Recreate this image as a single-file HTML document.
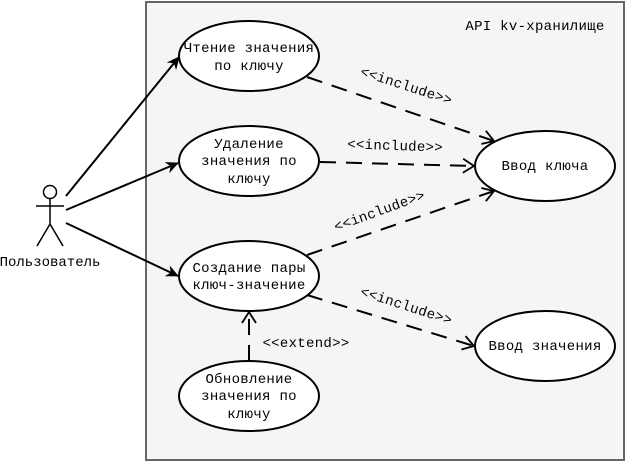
<!DOCTYPE html>
<html><head><meta charset="utf-8"><style>
html,body{margin:0;padding:0;background:#fff;}
svg{display:block;}
text{font-family:"Liberation Mono","DejaVu Sans Mono",monospace;font-size:14px;letter-spacing:0.3px;fill:#000;}
</style></head><body>
<svg width="627" height="463" viewBox="0 0 627 463" xmlns="http://www.w3.org/2000/svg">
<defs>
<marker id="fill" markerWidth="14" markerHeight="14" refX="12" refY="7" orient="auto" markerUnits="userSpaceOnUse">
<path d="M0,1 L13,7 L0,13 L4,7 Z" fill="#000"/>
</marker>
<marker id="open" markerWidth="16" markerHeight="16" refX="14" refY="8" orient="auto" markerUnits="userSpaceOnUse">
<path d="M3,1 L14,8 L3,15" fill="none" stroke="#000" stroke-width="1.8"/>
</marker>
</defs>
<rect x="146" y="2" width="478" height="458" fill="#f5f5f5" stroke="#666" stroke-width="2"/>
<text x="535" y="30" text-anchor="middle">API kv-хранилище</text>

<g stroke="#000" stroke-width="1.5" fill="none">
<circle cx="50" cy="192" r="6.5" fill="#fff"/>
<line x1="50" y1="198.5" x2="50" y2="224"/>
<line x1="36" y1="206" x2="64" y2="206"/>
<line x1="50" y1="224" x2="37" y2="246"/>
<line x1="50" y1="224" x2="63" y2="246"/>
</g>
<text x="50" y="266" text-anchor="middle" style="letter-spacing:0px">Пользователь</text>

<g stroke="#000" stroke-width="2" fill="none">
<line x1="66" y1="196" x2="179" y2="57" marker-end="url(#fill)"/>
<line x1="66" y1="210" x2="178" y2="163" marker-end="url(#fill)"/>
<line x1="66" y1="223" x2="178" y2="276" marker-end="url(#fill)"/>
</g>

<g stroke="#000" stroke-width="2" fill="none" stroke-dasharray="16,10">
<line x1="307" y1="77" x2="494" y2="141" marker-end="url(#open)"/>
<line x1="320" y1="162" x2="474" y2="166" marker-end="url(#open)"/>
<line x1="307" y1="255" x2="494" y2="191" marker-end="url(#open)"/>
<line x1="307" y1="295" x2="474" y2="346" marker-end="url(#open)"/>
<line x1="249" y1="361" x2="249" y2="312" marker-end="url(#open)"/>
</g>

<text x="405" y="90" text-anchor="middle" transform="rotate(18 405 90)">&lt;&lt;include&gt;&gt;</text>
<text x="395" y="150" text-anchor="middle" transform="rotate(2 395 150)">&lt;&lt;include&gt;&gt;</text>
<text x="381" y="215" text-anchor="middle" transform="rotate(-20 381 215)">&lt;&lt;include&gt;&gt;</text>
<text x="405" y="310" text-anchor="middle" transform="rotate(18 405 310)">&lt;&lt;include&gt;&gt;</text>
<text x="306" y="347" text-anchor="middle">&lt;&lt;extend&gt;&gt;</text>

<g fill="#fff" stroke="#000" stroke-width="2">
<ellipse cx="249" cy="56" rx="70" ry="35"/>
<ellipse cx="249" cy="161" rx="70" ry="35"/>
<ellipse cx="249" cy="276" rx="70" ry="35"/>
<ellipse cx="249" cy="396" rx="70" ry="35"/>
<ellipse cx="545" cy="166" rx="70" ry="35"/>
<ellipse cx="545" cy="346" rx="70" ry="35"/>
</g>
<g text-anchor="middle">
<text x="249" y="52">Чтение значения</text>
<text x="249" y="70">по ключу</text>
<text x="249" y="148">Удаление</text>
<text x="249" y="165">значения по</text>
<text x="249" y="183">ключу</text>
<text x="249" y="272">Создание пары</text>
<text x="249" y="289">ключ-значение</text>
<text x="249" y="383">Обновление</text>
<text x="249" y="400">значения по</text>
<text x="249" y="418">ключу</text>
<text x="545" y="170">Ввод ключа</text>
<text x="545" y="350">Ввод значения</text>
</g>
</svg>
</body></html>
